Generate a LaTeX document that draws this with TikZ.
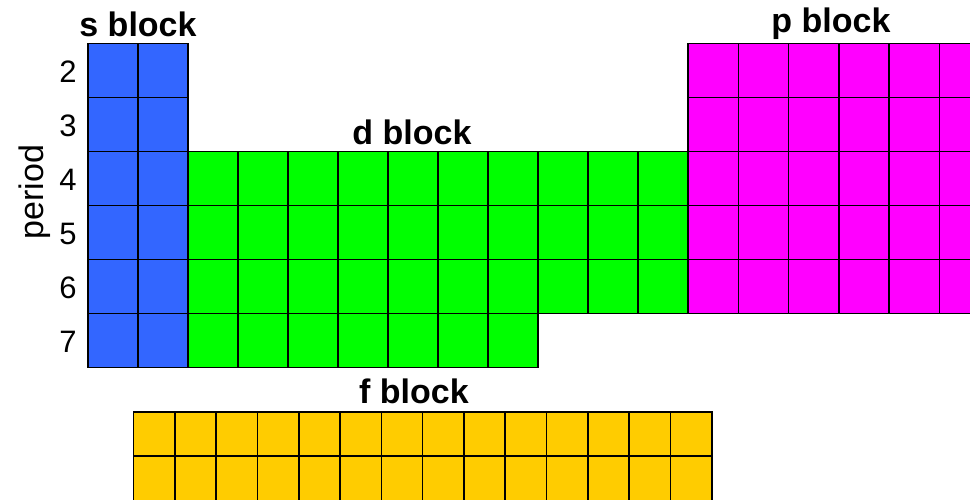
\documentclass[tikz,border=0pt]{standalone}
\usepackage{fontspec}
\setmainfont{Liberation Sans}
\definecolor{sblue}{RGB}{51,102,255}
\definecolor{dgreen}{RGB}{0,255,0}
\definecolor{pmagenta}{RGB}{255,0,255}
\definecolor{fgold}{RGB}{255,204,0}
\usetikzlibrary{positioning}

\begin{document}
\begin{tikzpicture}[x=1pt,y=-1pt,
    cell/.style={draw=black,line width=1.6pt},
    blocklabel/.style={font=\fontsize{34}{40}\selectfont\bfseries,inner sep=0pt,anchor=base},
    periodnum/.style={font=\fontsize{31}{36}\selectfont,inner sep=0pt}]
  \clip (0,0) rectangle (970,500);
  \fill[white] (0,0) rectangle (970,500);
  % s block: periods 2-7
  \foreach \r in {0,...,5}
    \foreach \c in {0,1}
      \draw[cell,fill=sblue] (88+50*\c,43.5+54*\r) rectangle ++(50,54);
  % d block: periods 4-6, plus 7 columns in period 7
  \foreach \r in {2,3,4}
    \foreach \c in {0,...,9}
      \draw[cell,fill=dgreen] (188+50*\c,43.5+54*\r) rectangle ++(50,54);
  \foreach \c in {0,...,6}
    \draw[cell,fill=dgreen] (188+50*\c,43.5+54*5) rectangle ++(50,54);
  % p block: periods 2-6
  \foreach \r in {0,...,4}
    \foreach \c in {0,...,5}
      \draw[cell,fill=pmagenta] (688+50.3*\c,43.5+54*\r) rectangle ++(50.3,54);
  % f block
  \foreach \r in {0,1}
    \foreach \c in {0,...,13}
      \draw[cell,fill=fgold] (133.5+41.3*\c,411.7+44.4*\r) rectangle ++(41.3,44.4);
  % labels
  \node[blocklabel] (slabel) at (138,37) {s block};
  \node[blocklabel] (dlabel) at (412,145) {d block};
  \node[blocklabel] (plabel) at (831,33) {p block};
  \node[blocklabel] (flabel) at (414,403) {f block};
  \foreach \n [count=\i from 0] in {2,...,7}
    \node[periodnum] (num\n) at (68,71.5+54*\i) {\n};
  \node[periodnum,font=\fontsize{34}{40}\selectfont,rotate=90] (period) at (35,192) {period};
\end{tikzpicture}
\end{document}
